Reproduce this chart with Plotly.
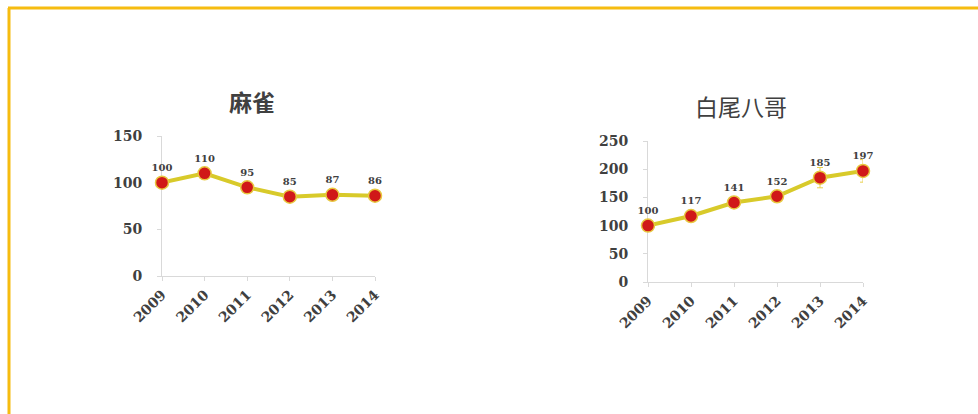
import plotly.graph_objects as go

years = [2009, 2010, 2011, 2012, 2013, 2014]
sparrow = [100, 110, 95, 85, 87, 86]
myna = [100, 117, 141, 152, 185, 197]
myna_err = [0, 0, 10, 10, 18, 20]
titles = ["麻雀", "白尾八哥"]

W, H = 978, 414
line_col = "#d8ca2a"
mk_col = "#d01818"
txt_col = "#404040"
font_num = "DejaVu Serif"

fig = go.Figure()

def px_x(a, b):
    return [a / W, b / W]

def px_y(top, bottom):
    return [(H - bottom) / H, (H - top) / H]

lbl_font = dict(family=font_num, size=10, color=txt_col, weight="bold")

fig.add_trace(go.Scatter(
    x=years, y=sparrow, mode="lines+markers+text",
    text=[str(v) for v in sparrow], textposition="top center",
    textfont=lbl_font,
    line=dict(color=line_col, width=4),
    marker=dict(color=mk_col, size=13, line=dict(color="#e8c840", width=1.5)),
    cliponaxis=False, xaxis="x", yaxis="y", showlegend=False,
))
fig.add_trace(go.Scatter(
    x=years, y=myna, mode="lines+markers+text",
    text=[str(v) for v in myna], textposition="top center",
    textfont=lbl_font,
    line=dict(color=line_col, width=4),
    marker=dict(color=mk_col, size=13, line=dict(color="#e8c840", width=1.5)),
    error_y=dict(type="data", array=myna_err, color="#e8d050", thickness=1, width=3),
    cliponaxis=False, xaxis="x2", yaxis="y2", showlegend=False,
))

axis_common = dict(showgrid=False, zeroline=False, showline=True, linecolor="#d9d9d9",
                   linewidth=1, ticks="outside", tickcolor="#d9d9d9", ticklen=4,
                   automargin=False, layer="below traces",
                   tickfont=dict(family=font_num, size=14, color=txt_col, weight="bold"))

fig.update_layout(
    width=W, height=H, margin=dict(l=0, r=0, t=0, b=0, autoexpand=False),
    paper_bgcolor="white", plot_bgcolor="white",
    xaxis=dict(domain=px_x(162, 375), range=[2009, 2014], tickvals=years,
               tickangle=-45, anchor="y", **axis_common),
    yaxis=dict(domain=px_y(136, 276), range=[0, 150], tickvals=[0, 50, 100, 150],
               anchor="x", ticklabelstandoff=12, **axis_common),
    xaxis2=dict(domain=px_x(648, 863), range=[2009, 2014], tickvals=years,
                tickangle=-45, anchor="y2", **axis_common),
    yaxis2=dict(domain=px_y(141, 282), range=[0, 250], tickvals=[0, 50, 100, 150, 200, 250],
                anchor="x2", ticklabelstandoff=12, **axis_common),
    annotations=[
        dict(text="<b>" + titles[0] + "</b>", x=252 / W, y=1 - 101 / H, xref="paper", yref="paper",
             xanchor="center", yanchor="middle",
             showarrow=False, font=dict(family="Noto Sans CJK SC", size=23, color=txt_col)),
        dict(text=titles[1], x=741 / W, y=1 - 106 / H, xref="paper", yref="paper",
             xanchor="center", yanchor="middle",
             showarrow=False, font=dict(family="Noto Sans CJK SC", size=23, color=txt_col)),
    ],
    shapes=[
        dict(type="line", xref="paper", yref="paper", x0=8 / W, x1=1, y0=1 - 8 / H, y1=1 - 8 / H,
             line=dict(color="#f6bc10", width=3)),
        dict(type="line", xref="paper", yref="paper", x0=9 / W, x1=9 / W, y0=0, y1=1 - 8 / H,
             line=dict(color="#f6bc10", width=3)),
    ],
)

fig.write_html("out.html", config={"displayModeBar": False},
               post_script="document.body.style.margin='0';document.body.style.overflow='hidden';")
